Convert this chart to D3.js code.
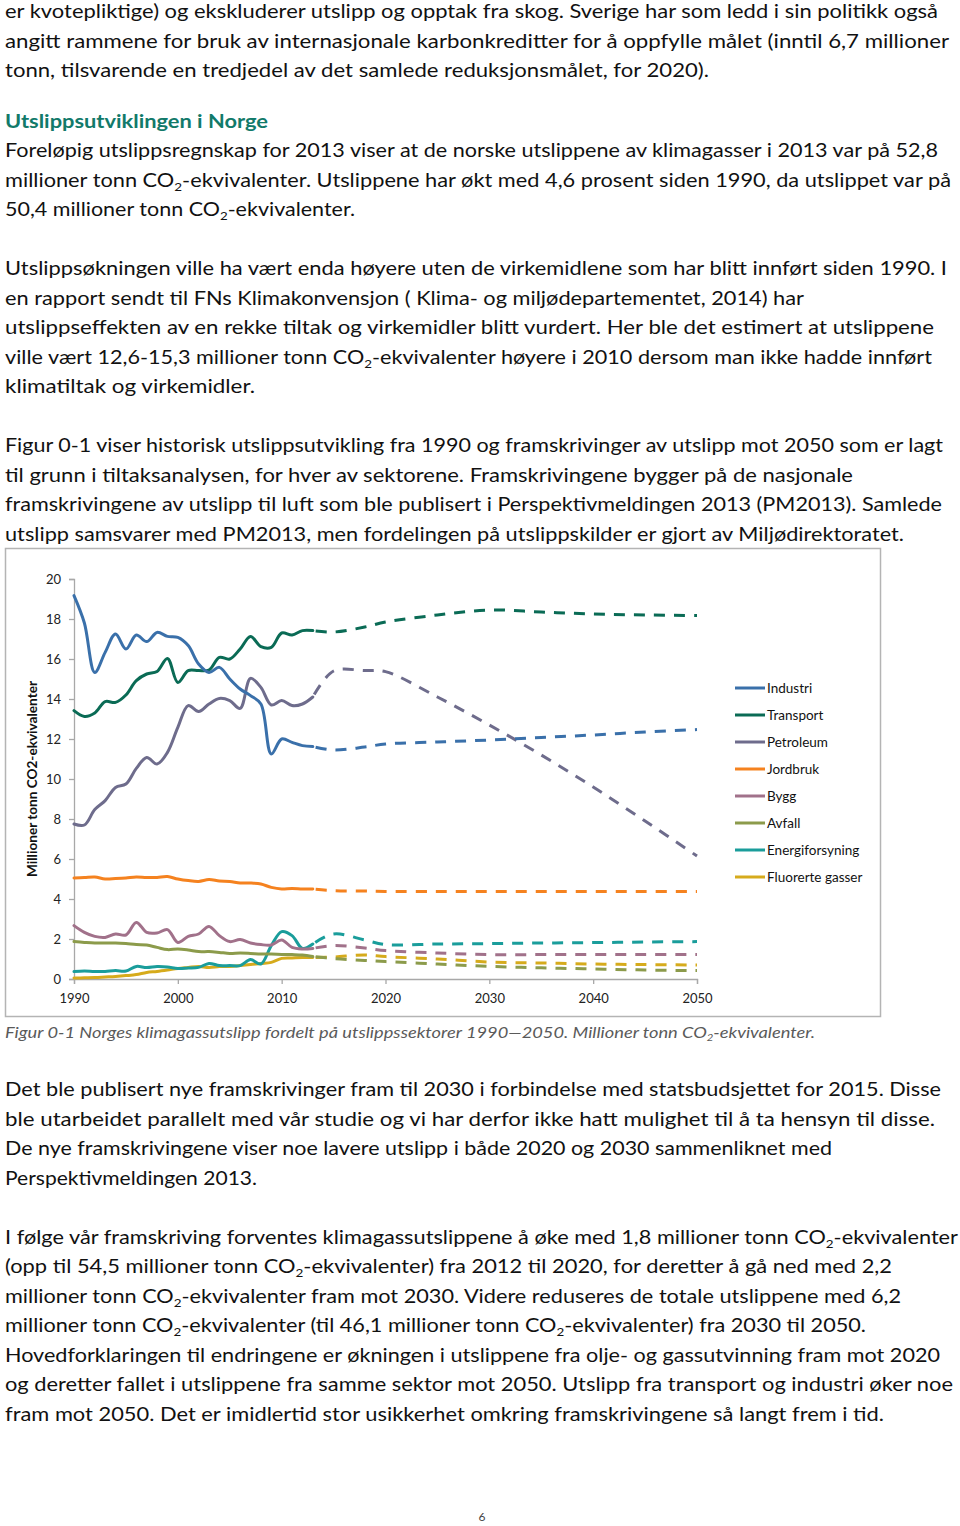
<!DOCTYPE html>
<html><head><meta charset="utf-8">
<script src="https://cdn.jsdelivr.net/npm/d3@7"></script>
<style>
html,body{margin:0;padding:0;background:#fff;}
svg{display:block;}
</style></head>
<body>
<script>
// ---------------- DATA ----------------
const sectors = ["Industri","Transport","Petroleum","Jordbruk","Bygg","Avfall","Energiforsyning","Fluorerte gasser"];
const sectorColors = ["#3a70aa","#0a6b55","#6e6c8c","#f5821f","#a1718a","#8c9b4b","#1a9d9b","#d6ab1c"];

const histYears = d3.range(1990, 2014);
const projYears = [2013, 2015, 2018, 2020, 2025, 2030, 2035, 2040, 2045, 2050];

const histIndustri  = [19.17,17.8,15.33,16.33,17.25,16.5,17.2,16.87,17.33,17.13,17.08,16.67,15.75,15.33,15.58,15.0,14.5,14.17,13.75,11.25,12.0,11.83,11.67,11.62];
const histTransport = [13.42,13.13,13.3,13.87,13.83,14.2,14.92,15.25,15.38,16.03,14.83,15.42,15.42,15.45,16.08,16.0,16.5,17.13,16.62,16.58,17.3,17.2,17.42,17.42];
const histPetroleum = [7.75,7.7,8.47,8.92,9.58,9.75,10.53,11.08,10.75,11.33,12.58,13.67,13.37,13.75,14.03,13.92,13.53,15.03,14.58,13.7,13.92,13.67,13.75,14.1];
const histJordbruk  = [5.05,5.07,5.1,5.0,5.02,5.05,5.1,5.07,5.08,5.12,5.0,4.92,4.88,4.97,4.9,4.88,4.8,4.8,4.75,4.58,4.5,4.53,4.5,4.5];
const histBygg      = [2.67,2.33,2.13,2.08,2.25,2.2,2.83,2.33,2.3,2.47,1.83,2.13,2.25,2.63,2.17,1.87,1.97,1.8,1.72,1.7,1.95,1.58,1.5,1.53];
const histAvfall    = [1.87,1.83,1.8,1.8,1.8,1.77,1.72,1.7,1.58,1.47,1.5,1.45,1.37,1.37,1.33,1.28,1.3,1.28,1.25,1.25,1.23,1.22,1.2,1.13];
const histEnergi    = [0.37,0.4,0.37,0.38,0.42,0.4,0.63,0.57,0.62,0.6,0.53,0.55,0.58,0.78,0.67,0.67,0.67,0.97,0.75,1.67,2.37,2.17,1.53,1.75];
const histFluor     = [0.05,0.06,0.07,0.1,0.13,0.17,0.22,0.33,0.38,0.45,0.53,0.58,0.63,0.58,0.62,0.63,0.67,0.72,0.78,0.83,1.03,1.05,1.07,1.07];

const projIndustri  = [11.62,11.45,11.6,11.75,11.85,11.95,12.08,12.2,12.35,12.47];
const projTransport = [17.42,17.35,17.6,17.85,18.2,18.45,18.35,18.25,18.2,18.17];
const projPetroleum = [14.1,15.4,15.42,15.37,14.1,12.7,11.2,9.6,7.9,6.15];
const projJordbruk  = [4.5,4.42,4.4,4.38,4.38,4.38,4.38,4.38,4.38,4.38];
const projBygg      = [1.53,1.67,1.55,1.42,1.3,1.22,1.22,1.22,1.22,1.22];
const projAvfall    = [1.13,1.02,0.93,0.87,0.75,0.63,0.56,0.5,0.45,0.42];
const projEnergi    = [1.75,2.25,1.95,1.72,1.75,1.77,1.8,1.82,1.85,1.87];
const projFluor     = [1.07,1.1,1.2,1.12,1.0,0.85,0.8,0.75,0.72,0.7];

const yTicks = [0,2,4,6,8,10,12,14,16,18,20];
const xTicks = [1990,2000,2010,2020,2030,2040,2050];
const yTitle = "Millioner tonn CO2-ekvivalenter";

// ---------------- TEXT ----------------
const textTop = [
 "er kvotepliktige) og ekskluderer utslipp og opptak fra skog. Sverige har som ledd i sin politikk også",
 "angitt rammene for bruk av internasjonale karbonkreditter for å oppfylle målet (inntil 6,7 millioner",
 "tonn, tilsvarende en tredjedel av det samlede reduksjonsmålet, for 2020).",
 "#Utslippsutviklingen i Norge",
 "Foreløpig utslippsregnskap for 2013 viser at de norske utslippene av klimagasser i 2013 var på 52,8",
 "millioner tonn CO{2}-ekvivalenter. Utslippene har økt med 4,6 prosent siden 1990, da utslippet var på",
 "50,4 millioner tonn CO{2}-ekvivalenter.",
 "Utslippsøkningen ville ha vært enda høyere uten de virkemidlene som har blitt innført siden 1990. I",
 "en rapport sendt til FNs Klimakonvensjon ( Klima- og miljødepartementet, 2014) har",
 "utslippseffekten av en rekke tiltak og virkemidler blitt vurdert. Her ble det estimert at utslippene",
 "ville vært 12,6-15,3 millioner tonn CO{2}-ekvivalenter høyere i 2010 dersom man ikke hadde innført",
 "klimatiltak og virkemidler.",
 "Figur 0-1 viser historisk utslippsutvikling fra 1990 og framskrivinger av utslipp mot 2050 som er lagt",
 "til grunn i tiltaksanalysen, for hver av sektorene. Framskrivingene bygger på de nasjonale",
 "framskrivingene av utslipp til luft som ble publisert i Perspektivmeldingen 2013 (PM2013). Samlede",
 "utslipp samsvarer med PM2013, men fordelingen på utslippskilder er gjort av Miljødirektoratet.",
 "~Figur 0-1 Norges klimagassutslipp fordelt på utslippssektorer 1990—2050. Millioner tonn CO{2}-ekvivalenter.",
 "Det ble publisert nye framskrivinger fram til 2030 i forbindelse med statsbudsjettet for 2015. Disse",
 "ble utarbeidet parallelt med vår studie og vi har derfor ikke hatt mulighet til å ta hensyn til disse.",
 "De nye framskrivingene viser noe lavere utslipp i både 2020 og 2030 sammenliknet med",
 "Perspektivmeldingen 2013.",
 "I følge vår framskriving forventes klimagassutslippene å øke med 1,8 millioner tonn CO{2}-ekvivalenter",
 "(opp til 54,5 millioner tonn CO{2}-ekvivalenter) fra 2012 til 2020, for deretter å gå ned med 2,2",
 "millioner tonn CO{2}-ekvivalenter fram mot 2030. Videre reduseres de totale utslippene med 6,2",
 "millioner tonn CO{2}-ekvivalenter (til 46,1 millioner tonn CO{2}-ekvivalenter) fra 2030 til 2050.",
 "Hovedforklaringen til endringene er økningen i utslippene fra olje- og gassutvinning fram mot 2020",
 "og deretter fallet i utslippene fra samme sektor mot 2050. Utslipp fra transport og industri øker noe",
 "fram mot 2050. Det er imidlertid stor usikkerhet omkring framskrivingene så langt frem i tid."
];
// [baseline y, right edge x]
const textLayout = [
 [18,938],[48,949],[77,709],[128,268],[157,938],[187,951],[216,355],
 [275,947],[305,804],[334,934],[364,932],[393,255],
 [452,943],[482,853],[511,942],[541,904],
 [1038,815],
 [1096,941],[1126,935],[1155,832],[1185,257],
 [1244,958],[1273,892],[1303,901],[1332,866],[1362,940],[1391,953],[1421,884]
];

// ---------------- DRAW ----------------
const svg = d3.select("body").append("svg").attr("width",960).attr("height",1526);
svg.append("rect").attr("width",960).attr("height",1526).attr("fill","#fff");

const FONT = "Lato, 'Open Sans', sans-serif";

function drawText(str, y, right){
  let size = 19, fill = "#111", weight = 400, style = "normal";
  if (str.startsWith("#")) { str = str.slice(1); fill = "#127a6a"; weight = 700; }
  if (str.startsWith("~")) { str = str.slice(1); fill = "#5a5a5a"; size = 15; style = "italic"; }
  const t = svg.append("text").attr("x",5).attr("y",y)
    .attr("font-family",FONT).attr("font-size",size).attr("font-weight",weight)
    .attr("font-style",style).attr("fill",fill)
    .attr("textLength", right-5).attr("lengthAdjust","spacingAndGlyphs");
  const parts = str.split("{2}");
  const sub = Math.round(size*0.22);
  parts.forEach((p,i)=>{
    const ts = t.append("tspan").text(p);
    if (i>0) ts.attr("dy",-sub);
    if (i<parts.length-1) t.append("tspan").text("2").attr("font-size",size*0.62).attr("dy",sub);
  });
}
textTop.forEach((s,i)=>drawText(s, textLayout[i][0], textLayout[i][1]));

svg.append("text").attr("x",482).attr("y",1521).attr("text-anchor","middle")
  .attr("font-family",FONT).attr("font-size",12).attr("fill","#444").text("6");

// chart frame
svg.append("rect").attr("x",5.5).attr("y",548.5).attr("width",875).attr("height",468)
  .attr("fill","none").attr("stroke","#b4b4b4").attr("stroke-width",1.5);

const x = d3.scaleLinear().domain([1990,2050]).range([74,697]);
const y = d3.scaleLinear().domain([0,20]).range([979,579]);

const gy = svg.append("g").attr("transform","translate(74,0)")
  .call(d3.axisLeft(y).tickValues(yTicks).tickSize(5).tickPadding(8).tickFormat(d3.format("d")));
const gx = svg.append("g").attr("transform","translate(0,979)")
  .call(d3.axisBottom(x).tickValues(xTicks).tickSize(5).tickPadding(10).tickFormat(d3.format("d")));
[gy,gx].forEach(g=>{
  g.selectAll(".domain").attr("stroke","#a8a8a8").attr("stroke-width",1.3);
  g.selectAll(".tick line").attr("stroke","#a8a8a8").attr("stroke-width",1.3);
  g.selectAll(".tick text").attr("font-family",FONT).attr("font-size",13).attr("fill","#222");
});

svg.append("text").attr("transform","translate(37,779) rotate(-90)")
  .attr("text-anchor","middle").attr("font-family",FONT).attr("font-weight",700)
  .attr("font-size",13).attr("fill","#111")
  .attr("textLength",196).attr("lengthAdjust","spacingAndGlyphs").text(yTitle);

const hist = [histIndustri,histTransport,histPetroleum,histJordbruk,histBygg,histAvfall,histEnergi,histFluor];
const proj = [projIndustri,projTransport,projPetroleum,projJordbruk,projBygg,projAvfall,projEnergi,projFluor];

const line = d3.line().x(d=>x(d[0])).y(d=>y(d[1])).curve(d3.curveCatmullRom.alpha(0.5));

// draw in reverse so Industri on top
const order = d3.range(sectors.length).reverse();
order.forEach(i=>{
  svg.append("path").datum(histYears.map((yr,k)=>[yr,hist[i][k]]))
    .attr("d",line).attr("fill","none").attr("stroke",sectorColors[i])
    .attr("stroke-width",3).attr("stroke-linejoin","round").attr("stroke-linecap","round");
  svg.append("path").datum(projYears.map((yr,k)=>[yr,proj[i][k]]))
    .attr("d",line).attr("fill","none").attr("stroke",sectorColors[i])
    .attr("stroke-width",3).attr("stroke-dasharray","11,9").attr("stroke-dashoffset",-3);
});

// legend
const leg = svg.append("g");
sectors.forEach((s,i)=>{
  const ly = 688 + i*27;
  leg.append("line").attr("x1",735).attr("x2",765).attr("y1",ly).attr("y2",ly)
    .attr("stroke",sectorColors[i]).attr("stroke-width",3);
  leg.append("text").attr("x",767).attr("y",ly).attr("dy","0.35em")
    .attr("font-family",FONT).attr("font-size",13.5).attr("fill","#111").text(s);
});
</script>
</body></html>
